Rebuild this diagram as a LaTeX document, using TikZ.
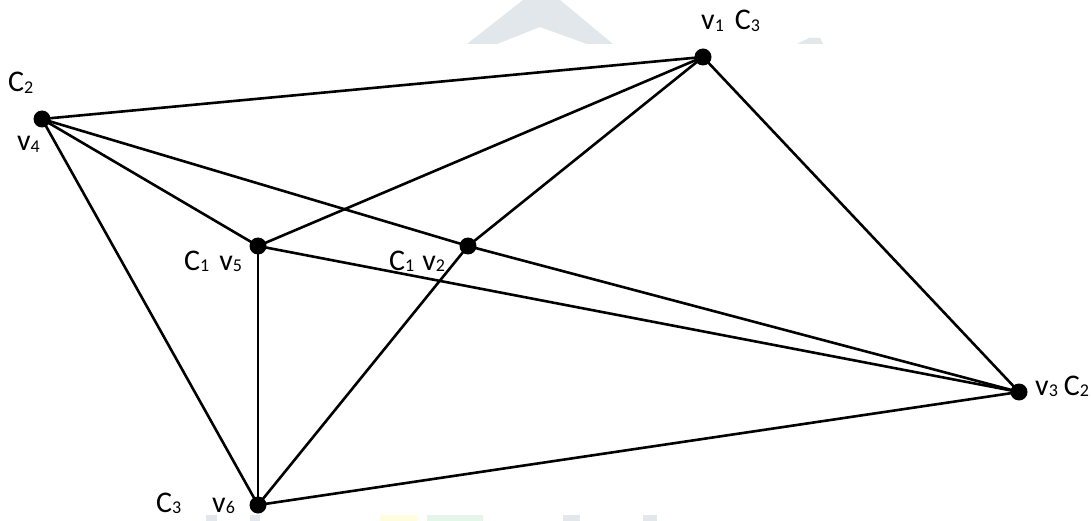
\documentclass[tikz,border=0pt]{standalone}
\usepackage{fontspec}
\setmainfont{Carlito}
\newcommand{\ix}[1]{{\fontsize{18}{18}\selectfont\raisebox{-1.5pt}{#1}}}
\begin{document}
\begin{tikzpicture}[x=1pt,y=-1pt,
  vertex/.style={circle,fill=black,inner sep=0pt,minimum size=17pt},
  edge/.style={line width=2.6pt,black},
  lbl/.style={anchor=base west,inner sep=0pt,font=\fontsize{30}{33}\selectfont},
  wm/.style={draw=none}]
\useasboundingbox (0,0) rectangle (1091,521);
\fill[white] (0,0) rectangle (1091,521);
% faint background marks
\fill[wm,fill={rgb,255:red,226;green,231;blue,235}]
  (467,44) -- (523,0) -- (560,0) -- (613,44) -- (587,44) -- (540,27) -- (497,44) -- cycle;
\fill[wm,fill={rgb,255:red,226;green,231;blue,235}]
  (797,44) -- (809,38) -- (820,38) -- (823,44) -- cycle;
\fill[wm,fill={rgb,255:red,226;green,231;blue,235}] (206,515) rectangle (217,521);
\fill[wm,fill={rgb,255:red,226;green,231;blue,235}] (250,515) rectangle (260,521);
\fill[wm,fill={rgb,255:red,255;green,253;blue,222}] (380,515) rectangle (417,521);
\fill[wm,fill={rgb,255:red,228;green,246;blue,234}] (427,515) rectangle (483,521);
\fill[wm,fill={rgb,255:red,226;green,231;blue,235}] (563,515) rectangle (580,521);
\fill[wm,fill={rgb,255:red,226;green,231;blue,235}] (643,515) rectangle (657,521);

% vertices
\node[vertex] (v1) at (703,57) {};
\node[vertex] (v2) at (468,246) {};
\node[vertex] (v3) at (1019,392) {};
\node[vertex] (v4) at (42,119) {};
\node[vertex] (v5) at (258,246) {};
\node[vertex] (v6) at (258,505) {};

% edges
\draw[edge] (v4.center) -- (v1.center);
\draw[edge] (v4.center) -- (v5.center);
\draw[edge] (v4.center) -- (v2.center);
\draw[edge] (v4.center) -- (v6.center);
\draw[edge] (v1.center) -- (v5.center);
\draw[edge] (v1.center) -- (v2.center);
\draw[edge] (v1.center) -- (v3.center);
\draw[edge] (v5.center) -- (v3.center);
\draw[edge] (v2.center) -- (v3.center);
\draw[edge] (v5.center) -- (v6.center);
\draw[edge] (v2.center) -- (v6.center);
\draw[edge] (v6.center) -- (v3.center);

% labels
\node[lbl] (l4c) at (8,92) {C\ix{2}};
\node[lbl] (l4v) at (17,151) {v\ix{4}};
\node[lbl] (l1) at (701,30) {v\ix{1}\hspace{11pt}C\ix{3}};
\node[lbl] (l5) at (184,270) {C\ix{1}\hspace{10pt}v\ix{5}};
\node[lbl] (l2) at (389,270) {C\ix{1}\hspace{8pt}v\ix{2}};
\node[lbl] (l3) at (1035,395) {v\ix{3}\hspace{6pt}C\ix{2}};
\node[lbl] (l6c) at (156,512) {C\ix{3}};
\node[lbl] (l6v) at (212,512) {v\ix{6}};
\end{tikzpicture}
\end{document}
